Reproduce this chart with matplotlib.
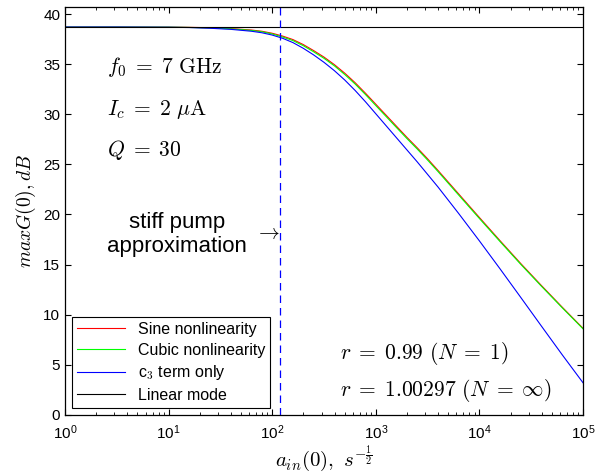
import numpy as np
import matplotlib
matplotlib.use("Agg")
import matplotlib.pyplot as plt

plt.rcParams['font.family'] = ['Liberation Sans', 'DejaVu Sans']
plt.rcParams['mathtext.fontset'] = 'cm'

# --- data (x as log10 of a_in(0)) ---
log_a = [0.0, 0.5, 1.0, 1.2, 1.4, 1.6, 1.8, 1.9, 2.0, 2.1, 2.2, 2.3, 2.4, 2.5,
         2.6, 2.7, 2.8, 2.9, 3.0, 3.1, 3.2, 3.3, 3.4, 3.5, 3.6, 3.8, 4.0, 4.2,
         4.4, 4.6, 4.8, 5.0]
g_sine = [38.70, 38.70, 38.69, 38.67, 38.63, 38.55, 38.40, 38.28, 38.08, 37.80,
          37.45, 36.95, 36.35, 35.70, 34.95, 34.10, 33.15, 32.10, 31.00, 29.90,
          28.80, 27.70, 26.65, 25.55, 24.40, 22.05, 19.70, 17.38, 15.10, 12.90,
          10.75, 8.65]
g_cubic = [38.70, 38.70, 38.69, 38.66, 38.61, 38.52, 38.36, 38.23, 38.01, 37.71,
           37.35, 36.84, 36.23, 35.58, 34.83, 33.97, 33.02, 31.97, 30.87, 29.77,
           28.67, 27.58, 26.53, 25.43, 24.29, 21.94, 19.60, 17.29, 15.02, 12.83,
           10.69, 8.60]
g_c3 = [38.70, 38.70, 38.68, 38.65, 38.58, 38.47, 38.28, 38.13, 37.90, 37.58,
        37.15, 36.58, 35.92, 35.18, 34.35, 33.42, 32.38, 31.25, 30.05, 28.85,
        27.65, 26.45, 25.25, 24.00, 22.75, 20.10, 17.37, 14.57, 11.72, 8.85,
        6.00, 3.22]
g_linear = 38.70
a_stiff = 120

a = 10.0 ** np.array(log_a)

fig = plt.figure(figsize=(6.03, 4.74), dpi=100)
ax = fig.add_axes([0.1078, 0.1245, 0.859, 0.8597])

ax.semilogx(a, g_sine, color='red', lw=0.8, label='Sine nonlinearity')
ax.semilogx(a, g_cubic, color='#00ff00', lw=0.8, label='Cubic nonlinearity')
ax.semilogx(a, g_c3, color='blue', lw=0.8, label='c$_3$ term only')
ax.axhline(g_linear, color='black', lw=0.8, label='Linear mode')
ax.axvline(a_stiff, color='blue', lw=0.9, ls=(0, (6, 4)))

ax.set_xlim(1, 1e5)
ax.set_ylim(0, 40.65)
ax.set_yticks(range(0, 41, 5))
ax.tick_params(which='both', direction='in', top=True, right=True, labelsize=11)
ax.tick_params(which='major', length=4)
ax.tick_params(which='minor', length=2)
ax.tick_params(axis='x', pad=6)
for s in ax.spines.values():
    s.set_linewidth(0.9)

ax.set_xlabel(r'$a_{in}(0),\ s^{-\frac{1}{2}}$', fontsize=15, labelpad=1)
ax.set_ylabel(r'$max G(0), dB$', fontsize=14, labelpad=4)

ax.text(0.081, 0.853, r'$f_0 \;=\; 7\ \mathrm{GHz}$', transform=ax.transAxes,
        fontsize=15.5, va='center')
ax.text(0.081, 0.750, r'$I_c \;=\; 2\ \mu\mathrm{A}$', transform=ax.transAxes,
        fontsize=15.5, va='center')
ax.text(0.081, 0.651, r'$Q \;=\; 30$', transform=ax.transAxes,
        fontsize=15.5, va='center')
ax.text(0.217, 0.4435, 'stiff pump\napproximation', transform=ax.transAxes,
        fontsize=16, ha='center', va='center', linespacing=1.2)
ax.text(0.392, 0.446, r'$\rightarrow$', transform=ax.transAxes,
        fontsize=15, ha='center', va='center')
ax.text(0.53, 0.152, r'$r \;=\; 0.99\ (N \;=\; 1)$', transform=ax.transAxes,
        fontsize=15.5, va='center')
ax.text(0.53, 0.061, r'$r \;=\; 1.00297\ (N \;=\; \infty)$', transform=ax.transAxes,
        fontsize=15.5, va='center')

leg = ax.legend(loc='lower left', fontsize=11.5, fancybox=False,
                framealpha=1, edgecolor='black', borderaxespad=0.45,
                handlelength=3.0, labelspacing=0.36, borderpad=0.3)
leg.get_frame().set_linewidth(0.8)

fig.savefig('out.png', dpi=100)
